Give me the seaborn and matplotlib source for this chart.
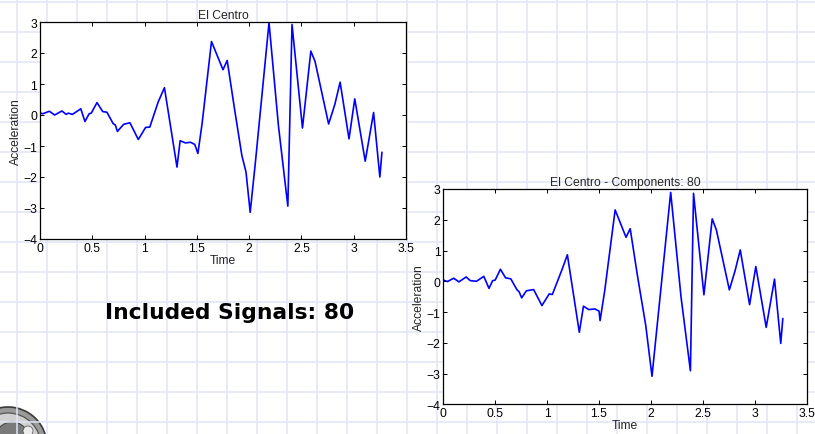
import numpy as np
import matplotlib
matplotlib.use("Agg")
import matplotlib.pyplot as plt
import seaborn as sns
import pandas as pd
from matplotlib.patches import Circle

# ---------------- data ----------------
t_orig = [0.00, 0.025, 0.09, 0.14, 0.21, 0.25, 0.27, 0.31, 0.39, 0.43, 0.47, 0.49,
          0.545, 0.60, 0.64, 0.70, 0.72, 0.74, 0.80, 0.86, 0.94, 1.01, 1.05, 1.13,
          1.19, 1.31, 1.34, 1.39, 1.44, 1.48, 1.51, 1.55, 1.64, 1.75, 1.79, 1.86,
          1.93, 1.97, 2.01, 2.06, 2.19, 2.28, 2.37, 2.41, 2.51, 2.59, 2.63, 2.76,
          2.82, 2.87, 2.955, 3.01, 3.11, 3.19, 3.25, 3.27]
a_orig = [0.07, 0.04, 0.12, 0.00, 0.13, 0.02, 0.06, 0.02, 0.20, -0.21, 0.04, 0.06,
          0.40, 0.11, 0.09, -0.28, -0.32, -0.53, -0.30, -0.25, -0.79, -0.40, -0.39, 0.42,
          0.88, -1.68, -0.83, -0.90, -0.88, -0.95, -1.24, -0.28, 2.37, 1.46, 1.76, 0.20,
          -1.30, -1.84, -3.14, -1.52, 2.98, -0.34, -2.94, 2.92, -0.42, 2.06, 1.73, -0.29,
          0.35, 1.06, -0.77, 0.52, -1.49, 0.08, -2.00, -1.20]

t_comp = [0.00, 0.04, 0.10, 0.15, 0.22, 0.26, 0.32, 0.39, 0.44, 0.475, 0.50, 0.55,
          0.60, 0.65, 0.71, 0.73, 0.755, 0.80, 0.87, 0.95, 1.02, 1.05, 1.14, 1.195,
          1.31, 1.35, 1.40, 1.46, 1.50, 1.51, 1.555, 1.655, 1.76, 1.80, 1.87, 1.95,
          2.01, 2.19, 2.29, 2.38, 2.41, 2.51, 2.59, 2.63, 2.755, 2.81, 2.86, 2.95,
          3.01, 3.11, 3.19, 3.25, 3.27]
a_comp = [0.04, -0.01, 0.10, -0.02, 0.14, 0.02, 0.00, 0.16, -0.23, 0.02, 0.04, 0.39,
          0.11, 0.08, -0.28, -0.34, -0.54, -0.31, -0.27, -0.79, -0.41, -0.43, 0.35, 0.86,
          -1.66, -0.81, -0.92, -0.90, -0.97, -1.28, -0.30, 2.32, 1.43, 1.71, 0.18, -1.44,
          -3.09, 2.89, -0.52, -2.91, 2.86, -0.44, 2.03, 1.67, -0.28, 0.34, 1.02, -0.76,
          0.48, -1.50, 0.07, -2.02, -1.21]

titles = ["El Centro", "El Centro - Components: 80"]
x_ticks = [0, 0.5, 1, 1.5, 2, 2.5, 3, 3.5]
x_ticklabels = ["0", "0.5", "1", "1.5", "2", "2.5", "3", "3.5"]
y_ticks = [-4, -3, -2, -1, 0, 1, 2, 3]
caption = "Included Signals: 80"

# ---------------- figure ----------------
sns.set_theme(style="white")
plt.rcParams['font.family'] = ['Liberation Sans', 'DejaVu Sans']

W, H = 815, 435
fig = plt.figure(figsize=(W / 100, H / 100), dpi=100)
fig.patch.set_facecolor("white")

# grid-paper background
bg = fig.add_axes([0, 0, 1, 1], zorder=-10)
bg.set_xlim(0, W)
bg.set_ylim(H, 0)
bg.axis("off")
for gx in range(17, W, 30):
    bg.axvline(gx, color="#e1e6f5", lw=1.1)
for gy in range(3, H, 30):
    bg.axhline(gy, color="#e1e6f5", lw=1.1)

# partial logo bottom-left
bg.add_patch(Circle((8, 447), 39, facecolor="#9a9a9a", edgecolor="#3a3a3a", lw=1.2))
bg.add_patch(Circle((8, 447), 33, facecolor="#d0d0d0", edgecolor="#555555", lw=0.9))
bg.add_patch(Circle((12, 440), 17, facecolor="#7a7a7a", edgecolor="#404040", lw=0.7))
bg.add_patch(Circle((28, 432), 5, facecolor="#ececec", edgecolor="#505050", lw=0.5))

positions = [
    [40 / W, 1 - 240 / H, 366 / W, 217 / H],
    [443.3 / W, 1 - 405.3 / H, 363.4 / W, 215.3 / H],
]
series = [(t_orig, a_orig), (t_comp, a_comp)]
fs = 8.7

for pos, (tt, aa), title in zip(positions, series, titles):
    ax = fig.add_axes(pos)
    df = pd.DataFrame({"Time": tt, "Acceleration": aa})
    sns.lineplot(data=df, x="Time", y="Acceleration", ax=ax, color="#0000ff",
                 lw=1.2, estimator=None, sort=False)
    ax.set_facecolor("white")
    ax.set_xlim(0, 3.5)
    ax.set_ylim(-4, 3)
    ax.set_xticks(x_ticks)
    ax.set_xticklabels(x_ticklabels)
    ax.set_yticks(y_ticks)
    ax.tick_params(direction="in", top=True, right=True, length=3, width=0.7,
                   labelsize=fs, pad=2, colors="black", bottom=True, left=True)
    for s in ax.spines.values():
        s.set_visible(True)
        s.set_color("black")
        s.set_linewidth(0.9)
    ax.set_title(title, fontsize=fs, pad=3)
    ax.set_xlabel("Time", fontsize=fs, labelpad=0)
    ax.set_ylabel("Acceleration", fontsize=fs, labelpad=1)

fig.text(230 / W, 1 - 313 / H, caption, ha="center", va="center",
         fontsize=15.7, fontweight="bold", family="DejaVu Sans", color="black")

fig.savefig("out.png", dpi=100)
